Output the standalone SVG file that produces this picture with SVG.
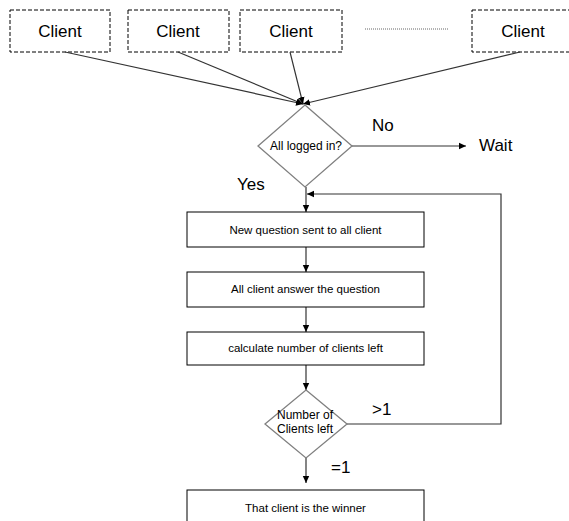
<svg xmlns="http://www.w3.org/2000/svg" width="569" height="521" viewBox="0 0 569 521">
  <style>
    text { font-family: "Liberation Sans", Arial, sans-serif; fill: #000; }
    .client { fill: #fff; stroke: #000; stroke-width: 1; stroke-dasharray: 4 2; }
    .box { fill: #fff; stroke: #000; stroke-width: 1; }
    .dec { fill: #fff; stroke: #808080; stroke-width: 1.3; }
    .big { font-size: 17px; }
    .small { font-size: 11.5px; }
    .dtext { font-size: 12px; }
    .link { fill: none; stroke: #333; stroke-width: 1.2; }
  </style>
  <defs>
    <marker id="arrow" markerUnits="userSpaceOnUse" markerWidth="8" markerHeight="8" refX="7" refY="4" orient="auto">
      <path d="M0,0.8 L7,4 L0,7.2 z" fill="#000"/>
    </marker>
  </defs>

  <!-- client nodes -->
  <g id="client1"><rect class="client" x="10" y="10" width="100" height="42"/><text class="big" x="60" y="37" text-anchor="middle">Client</text></g>
  <g id="client2"><rect class="client" x="128" y="10" width="101" height="42"/><text class="big" x="178" y="37" text-anchor="middle">Client</text></g>
  <g id="client3"><rect class="client" x="240" y="10" width="102" height="42"/><text class="big" x="291" y="37" text-anchor="middle">Client</text></g>
  <g id="client-more"><line x1="365" y1="29" x2="448" y2="29" stroke="#666" stroke-width="1" stroke-dasharray="1 1"/></g>
  <g id="client-n"><rect class="client" x="472" y="10" width="100" height="42"/><text class="big" x="523" y="37" text-anchor="middle">Client</text></g>

  <!-- connectors -->
  <g id="connectors">
    <line class="link" x1="65" y1="52" x2="303" y2="104" marker-end="url(#arrow)"/>
    <line class="link" x1="178" y1="52" x2="303" y2="104" marker-end="url(#arrow)"/>
    <line class="link" x1="290" y1="52" x2="303" y2="104" marker-end="url(#arrow)"/>
    <line class="link" x1="520" y1="52" x2="303" y2="104" marker-end="url(#arrow)"/>
    <line class="link" x1="352" y1="146" x2="466" y2="146" marker-end="url(#arrow)"/>
    <line class="link" x1="306" y1="187" x2="306" y2="212" marker-end="url(#arrow)"/>
    <polyline class="link" points="347,424 501,424 501,194 307,194" marker-end="url(#arrow)"/>
    <line class="link" x1="306" y1="247" x2="306" y2="272" marker-end="url(#arrow)"/>
    <line class="link" x1="306" y1="307" x2="306" y2="332" marker-end="url(#arrow)"/>
    <line class="link" x1="306" y1="365" x2="306" y2="390" marker-end="url(#arrow)"/>
    <line class="link" x1="306" y1="458" x2="306" y2="483" marker-end="url(#arrow)"/>
  </g>

  <!-- decision: all logged in -->
  <g id="logged-in">
    <polygon class="dec" points="305,105 352,146 305,187 258,146"/>
    <text class="dtext" x="306" y="150" text-anchor="middle">All logged in?</text>
  </g>
  <text class="big" x="372" y="131">No</text>
  <text class="big" x="479" y="151">Wait</text>
  <text class="big" x="237" y="190">Yes</text>

  <g id="send-question">
    <rect class="box" x="187" y="212" width="237" height="35"/>
    <text class="small" x="305.5" y="234" text-anchor="middle">New question sent to all client</text>
  </g>
  <g id="answer">
    <rect class="box" x="187" y="272" width="237" height="35"/>
    <text class="small" x="305.5" y="293" text-anchor="middle">All client answer the question</text>
  </g>
  <g id="count">
    <rect class="box" x="187" y="332" width="237" height="33"/>
    <text class="small" x="305.5" y="352" text-anchor="middle">calculate number of clients left</text>
  </g>

  <!-- decision: clients left -->
  <g id="clients-left">
    <polygon class="dec" points="306,390 347,424 306,458 265,424"/>
    <text class="dtext" x="305" y="419" text-anchor="middle">Number of</text>
    <text class="dtext" x="305" y="433" text-anchor="middle">Clients left</text>
  </g>
  <text class="big" x="372" y="415">&gt;1</text>
  <text class="big" x="331" y="473">=1</text>

  <g id="winner">
    <rect class="box" x="187" y="490" width="237" height="40"/>
    <text class="small" x="305.5" y="512" text-anchor="middle">That client is the winner</text>
  </g>
</svg>
